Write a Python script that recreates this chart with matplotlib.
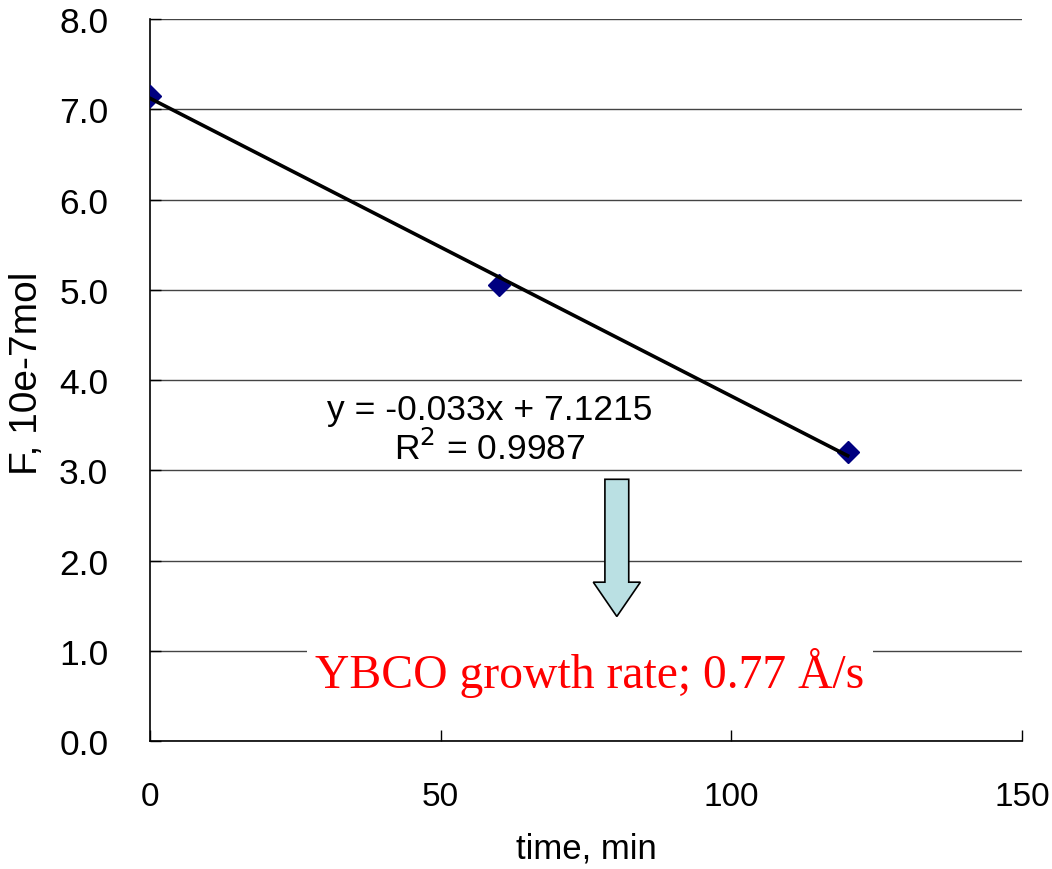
import numpy as np
import matplotlib
matplotlib.use("Agg")
import matplotlib.pyplot as plt
from matplotlib.patches import FancyArrow

# measured points
time_min = [0, 60, 120]
f_mol = [7.15, 5.05, 3.20]

# linear fit reported on the chart
SLOPE = -0.033
INTERCEPT = 7.1215
R2 = 0.9987

x_ticks = [0, 50, 100, 150]
y_ticks = [0.0, 1.0, 2.0, 3.0, 4.0, 5.0, 6.0, 7.0, 8.0]

plt.rcParams["font.family"] = ["Liberation Sans", "DejaVu Sans"]

fig = plt.figure(figsize=(10.52, 8.70), dpi=100)
ax = fig.add_axes([0.1426, 0.1471, 0.8289, 0.8299])

ax.set_xlim(0, 150)
ax.set_ylim(0, 8)
ax.set_xticks(x_ticks)
ax.set_yticks(y_ticks)
ax.set_yticklabels([f"{v:.1f}" for v in y_ticks])
ax.tick_params(axis="both", direction="in", length=8, width=1)
ax.tick_params(axis="x", pad=29, labelsize=24)
ax.tick_params(axis="y", pad=30, labelsize=25.5)

for side in ("top", "right"):
    ax.spines[side].set_visible(False)
for side in ("left", "bottom"):
    ax.spines[side].set_linewidth(1.2)
    ax.spines[side].set_color("black")

ax.yaxis.grid(True, color="#444444", lw=1.0)
ax.set_axisbelow(True)

ax.plot(time_min, f_mol, ls="none", marker="D", ms=11, color="#000080",
        zorder=3)
xfit = np.array([time_min[0], time_min[-1]])
ax.plot(xfit, SLOPE * xfit + INTERCEPT, color="black", lw=2.6, zorder=4)

ax.text(58.5, 3.45, f"y = {SLOPE}x + {INTERCEPT}\nR$^2$ = {R2}",
        ha="center", va="center", fontsize=25.5, linespacing=1.15)

ax.add_patch(FancyArrow(80.3, 2.90, 0, -1.52, width=4.1, head_width=8.1,
                        head_length=0.38, length_includes_head=True,
                        facecolor="#BAE0E3", edgecolor="black", lw=1.2,
                        zorder=5))

ax.text(75.7, 0.77, "YBCO growth rate; 0.77 Å/s", ha="center", va="center",
        fontsize=34.3, color="red", family=["Liberation Serif", "DejaVu Serif"],
        bbox=dict(facecolor="white", edgecolor="none", pad=6), zorder=5)

ax.set_xlabel("time, min", fontsize=25, labelpad=14)
ax.set_ylabel("F, 10e-7mol", fontsize=28)
ax.yaxis.set_label_coords(-0.12, 0.51)

fig.savefig("out.png", dpi=100)
